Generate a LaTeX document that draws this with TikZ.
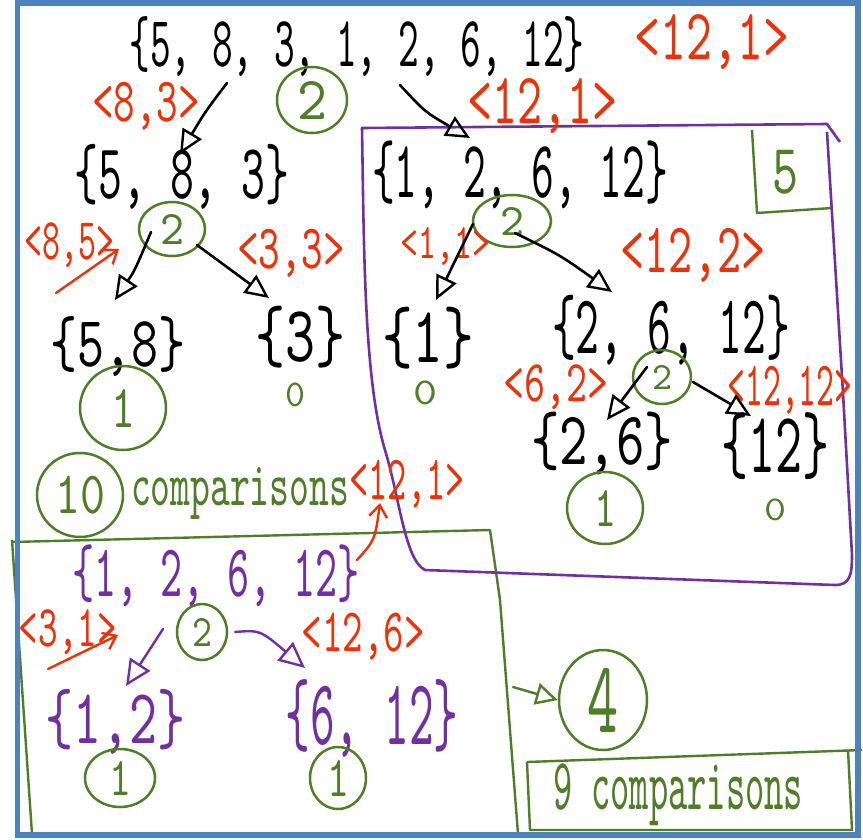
\documentclass[tikz,border=0pt]{standalone}
\usepackage{fontspec}
\usepackage{graphicx}
\usetikzlibrary{arrows.meta,shapes.geometric}
\newfontfamily\hand{lmmono10-regular.otf}
\definecolor{cred}{RGB}{235,50,10}
\definecolor{cgreen}{RGB}{80,125,40}
\definecolor{cpurple}{RGB}{112,48,160}
\definecolor{cblue}{RGB}{79,129,189}
\newcommand{\hw}[3]{\resizebox*{#1pt}{#2pt}{\hand #3}}
\tikzset{
  ink/.style={inner sep=0, text=black},
  rtxt/.style={inner sep=0, text=cred},
  gtxt/.style={inner sep=0, text=cgreen},
  ptxt/.style={inner sep=0, text=cpurple},
  gcirc/.style={ellipse, draw=cgreen, line width=2.5pt, inner sep=0, text=cgreen},
  barr/.style={draw=black, line width=2.6pt, line cap=round, -{Triangle[open,length=24pt,width=22pt,line width=2.4pt]}},
  parr/.style={draw=cpurple, line width=2.4pt, line cap=round, -{Triangle[open,length=26pt,width=24pt,line width=2.4pt]}},
  garr/.style={draw=cgreen, line width=2.4pt, line cap=round, -{Triangle[open,length=22pt,width=22pt,line width=2.4pt]}},
  rarr/.style={draw=cred, line width=2.4pt, line cap=round, -{Straight Barb[length=12pt,width=18pt,line width=2.4pt]}},
  pline/.style={draw=cpurple, line width=2.6pt, line join=round},
  gline/.style={draw=cgreen, line width=2.4pt, line join=round},
}
\begin{document}
\begin{tikzpicture}[x=1pt,y=-1pt]
\useasboundingbox (0,0) rectangle (863,839);
\fill[white] (0,0) rectangle (863,839);

% frames
\draw[gline] (12,542) -- (490,530) -- (500,600) -- (518,834);
\draw[gline] (12,540) -- (32,834) -- (518,834);
\draw[gline] (527,762) -- (862,750);
\draw[gline] (527,762) -- (530,830) -- (852,830) -- (848,750);
\draw[gline] (752,130) -- (757,213) -- (832,208);
\draw[pline] (840,142) -- (827,124) -- (362,128)
  .. controls (364,250) and (364,380) .. (385,450)
  .. controls (400,500) and (405,560) .. (425,570)
  -- (835,585) .. controls (850,585) and (852,575) .. (852,555)
  -- (843,393) -- (827,132);
\draw[cblue, line width=5.5pt] (17.5,3) rectangle (858,835);

% top level
\node[ink] (top) at (357,47) {\hw{455}{60}{\{5, 8, 3, 1, 2, 6, 12\}}};
\node[rtxt] (r1) at (712,42) {\hw{155}{55}{<12,1>}};
\node[gcirc, minimum width=70pt, minimum height=66pt] (c0) at (312,100) {\hw{30}{38}{2}};
\node[rtxt] (r83) at (146,106) {\hw{108}{48}{<8,3>}};
\node[rtxt] (r121b) at (542,106) {\hw{150}{55}{<12,1>}};

% left subtree
\node[ink] (s583) at (182,177) {\hw{215}{65}{\{5, 8, 3\}}};
\node[gcirc, minimum width=66pt, minimum height=54pt] (c583) at (172,229) {\hw{24}{30}{2}};
\node[rtxt] (r85) at (70,245) {\hw{90}{45}{<8,5>}};
\node[rtxt] (r33) at (291,253) {\hw{108}{48}{<3,3>}};
\node[ink] (s58) at (118,347) {\hw{135}{60}{\{5,8\}}};
\node[ink] (s3) at (300,337) {\hw{90}{62}{\{3\}}};
\node[gcirc, minimum width=86pt, minimum height=84pt] (c58) at (123,408) {\hw{24}{38}{1}};
\node[gtxt] (z3) at (295,395) {\hw{20}{24}{0}};
\node[gcirc, minimum width=86pt, minimum height=84pt] (c10) at (80,495) {\hw{50}{38}{10}};
\node[gtxt] (cmp10) at (240,493) {\hw{218}{52}{comparisons}};
\node[rtxt] (r121c) at (407,484) {\hw{115}{48}{<12,1>}};

% right subtree (purple box)
\node[ink] (s1) at (520,175) {\hw{296}{68}{\{1, 2, 6, 12\}}};
\node[gtxt] (five) at (785,172) {\hw{26}{44}{5}};
\node[gcirc, minimum width=78pt, minimum height=52pt] (c1) at (512,221) {\hw{24}{28}{2}};
\node[rtxt] (r11) at (445,246) {\hw{90}{38}{<1,1>}};
\node[rtxt] (r122) at (693,255) {\hw{145}{54}{<12,2>}};
\node[ink] (s1b) at (428,338) {\hw{92}{62}{\{1\}}};
\node[gtxt] (z1) at (425,393) {\hw{24}{24}{0}};
\node[ink] (s2612) at (671,330) {\hw{238}{70}{\{2, 6, 12\}}};
\node[gcirc, minimum width=58pt, minimum height=54pt] (c2) at (662,377) {\hw{20}{24}{2}};
\node[rtxt] (r62) at (556,387) {\hw{105}{45}{<6,2>}};
\node[rtxt] (r1212) at (790,390) {\hw{125}{48}{<12,12>}};
\node[ink] (s26) at (602,443) {\hw{142}{63}{\{2,6\}}};
\node[ink] (s12) at (775,446) {\hw{108}{67}{\{12\}}};
\node[gcirc, minimum width=76pt, minimum height=72pt] (c26) at (605,508) {\hw{22}{36}{1}};
\node[gtxt] (z12) at (775,510) {\hw{22}{22}{0}};

% bottom-left box
\node[ptxt] (p1) at (216,576) {\hw{287}{62}{\{1, 2, 6, 12\}}};
\node[gcirc, minimum width=50pt, minimum height=56pt] (pc) at (202,632) {\hw{20}{28}{2}};
\node[rtxt] (r31) at (68,632) {\hw{98}{45}{<3,1>}};
\node[rtxt] (r126) at (363,637) {\hw{123}{47}{<12,6>}};
\node[ptxt] (p12) at (115,722) {\hw{140}{65}{\{1,2\}}};
\node[ptxt] (p612) at (372,718) {\hw{173}{78}{\{6, 12\}}};
\node[gcirc, minimum width=70pt, minimum height=58pt] (pc12) at (120,778) {\hw{22}{34}{1}};
\node[gcirc, minimum width=56pt, minimum height=62pt] (pc612) at (338,778) {\hw{22}{36}{1}};

% right-bottom
\node[gcirc, minimum width=88pt, minimum height=100pt] (four) at (603,700) {\hw{31}{64}{4}};
\node[gtxt] (cmp9) at (678,795) {\hw{250}{62}{9 comparisons}};

% connector end points
\coordinate (a1s) at (227,83);
\coordinate (a1e) at (180,154);
\coordinate (a2s) at (400,85);
\coordinate (a2e) at (470,138);
\coordinate (b1s) at (151,232);
\coordinate (b1e) at (115,300);
\coordinate (b2s) at (197,245);
\coordinate (b2e) at (269,298);
\coordinate (d1s) at (473,224);
\coordinate (d1e) at (436,300);
\coordinate (d2s) at (515,233);
\coordinate (d2e) at (612,292);
\coordinate (e1s) at (647,367);
\coordinate (e1e) at (607,420);
\coordinate (e2s) at (693,382);
\coordinate (e2e) at (751,416);
\coordinate (f1s) at (163,629);
\coordinate (f1e) at (126,686);
\coordinate (f2s) at (235,632);
\coordinate (f2e) at (305,668);
\coordinate (g1s) at (513,687);
\coordinate (q1s) at (56,293);
\coordinate (q1e) at (119,249);
\coordinate (q2s) at (48,669);
\coordinate (q2e) at (118,635);
\coordinate (q3s) at (357,560);
\coordinate (q3e) at (380,503);

\draw[barr] (a1s) .. controls (205,112) .. (a1e);
\draw[barr] (a2s) .. controls (425,112) .. (a2e);
\draw[barr] (b1s) .. controls (135,270) .. (b1e);
\draw[barr] (b2s) -- (b2e);
\draw[barr] (d1s) -- (d1e);
\draw[barr] (d2s) .. controls (560,255) .. (d2e);
\draw[barr] (e1s) -- (e1e);
\draw[barr] (e2s) -- (e2e);
\draw[parr] (f1s) -- (f1e);
\draw[parr] (f2s) .. controls (260,630) .. (f2e);
\draw[garr] (g1s) -- (four.west);
\draw[rarr] (q1s) -- (q1e);
\draw[rarr] (q2s) -- (q2e);
\draw[rarr] (q3s) .. controls (375,540) .. (q3e);
\end{tikzpicture}
\end{document}
